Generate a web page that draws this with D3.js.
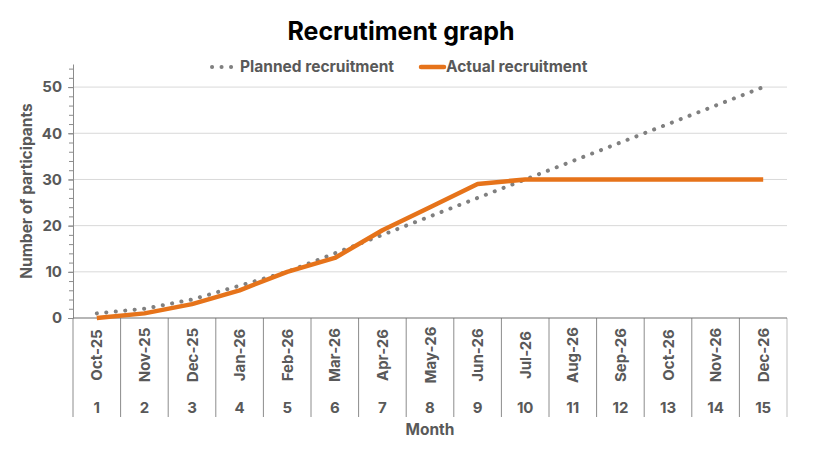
<!DOCTYPE html>
<html>
<head>
<script src="https://cdn.jsdelivr.net/npm/d3@7"></script>
<style>
  body { margin: 0; background: #fff; }
  text { font-family: Inter, "Open Sans", sans-serif; font-weight: 700; }
</style>
</head>
<body>
<script>
  // chart data
  var months = ["Oct-25", "Nov-25", "Dec-25", "Jan-26", "Feb-26", "Mar-26", "Apr-26", "May-26",
                "Jun-26", "Jul-26", "Aug-26", "Sep-26", "Oct-26", "Nov-26", "Dec-26"];
  var monthNo = [1, 2, 3, 4, 5, 6, 7, 8, 9, 10, 11, 12, 13, 14, 15];
  var planned = [1, 2, 4, 7, 10, 14, 18, 22, 26, 30, 34, 38, 42, 46, 50];
  var actual = [0, 1, 3, 6, 10, 13, 19, 24, 29, 30, 30, 30, 30, 30, 30];
  var yTicks = [0, 10, 20, 30, 40, 50];

  var W = 814, H = 458;
  var plotLeft = 73, plotRight = 787, plotTop = 64, plotBottom = 318;
  var textGrey = "#595959";
  var orange = "#E6731A";

  var svg = d3.select("body").append("svg")
      .attr("width", W)
      .attr("height", H);

  var x = d3.scaleBand()
      .domain(monthNo)
      .range([plotLeft, plotRight]);

  var y = d3.scaleLinear()
      .domain([0, 55])
      .range([plotBottom, plotTop]);

  // gridlines
  svg.append("g")
    .selectAll("line")
    .data(yTicks.slice(1))
    .enter().append("line")
      .attr("x1", plotLeft).attr("x2", plotRight)
      .attr("y1", function(d) { return y(d); })
      .attr("y2", function(d) { return y(d); })
      .style("stroke", "#d9d9d9")
      .style("stroke-width", 1);

  // y axis with minor ticks
  var minor = d3.range(0, 55, 2);
  svg.append("g")
      .attr("transform", "translate(" + plotLeft + ",0)")
      .call(d3.axisLeft(y).tickValues(minor).tickSize(4).tickSizeOuter(0).tickFormat(""))
      .call(function(g) {
        g.selectAll("line").style("stroke", "#8c8c8c");
        g.select(".domain").style("stroke", "#8c8c8c");
      });

  svg.append("g")
      .attr("transform", "translate(" + plotLeft + ",0)")
      .call(d3.axisLeft(y).tickValues(yTicks).tickSize(5).tickPadding(6))
      .call(function(g) {
        g.select(".domain").remove();
        g.selectAll("line").style("stroke", "#8c8c8c");
        g.selectAll("text")
          .style("font-size", "15px")
          .style("fill", textGrey)
          .style("font-family", "Inter, sans-serif")
          .style("font-weight", 700);
      });

  // category separators
  var edges = monthNo.map(function(d) { return x(d); }).concat([plotRight]);
  svg.append("g")
    .selectAll("line")
    .data(edges)
    .enter().append("line")
      .attr("x1", function(d) { return d; })
      .attr("x2", function(d) { return d; })
      .attr("y1", plotBottom)
      .attr("y2", 417)
      .style("stroke", function(d, i) { return i === edges.length - 1 ? "#bfbfbf" : "#8c8c8c"; })
      .style("stroke-width", 1);

  // x axis line
  svg.append("line")
      .attr("x1", plotLeft).attr("x2", plotRight)
      .attr("y1", plotBottom).attr("y2", plotBottom)
      .style("stroke", "#6e6e6e")
      .style("stroke-width", 1.2);

  // month labels (rotated)
  svg.append("g")
    .selectAll("text")
    .data(months)
    .enter().append("text")
      .attr("transform", function(d, i) {
        return "translate(" + (x(monthNo[i]) + x.bandwidth() / 2 + 5.5) + ",355) rotate(-90)";
      })
      .attr("text-anchor", "middle")
      .style("font-size", "15px")
      .style("fill", textGrey)
      .text(function(d) { return d; });

  // month numbers
  svg.append("g")
    .selectAll("text")
    .data(monthNo)
    .enter().append("text")
      .attr("x", function(d) { return x(d) + x.bandwidth() / 2; })
      .attr("y", 413)
      .attr("text-anchor", "middle")
      .style("font-size", "15px")
      .style("fill", textGrey)
      .text(function(d) { return d; });

  // lines
  var line = d3.line()
      .x(function(d, i) { return x(monthNo[i]) + x.bandwidth() / 2; })
      .y(function(d) { return y(d); });

  svg.append("path")
      .attr("d", line(planned))
      .style("fill", "none")
      .style("stroke", "#808080")
      .style("stroke-width", 4)
      .style("stroke-linecap", "round")
      .style("stroke-dasharray", "0.1 9.4");

  svg.append("path")
      .attr("d", line(actual))
      .style("fill", "none")
      .style("stroke", orange)
      .style("stroke-width", 4.5)
      .style("stroke-linejoin", "round");

  // title
  svg.append("text")
      .attr("x", 401)
      .attr("y", 40)
      .attr("text-anchor", "middle")
      .style("font-size", "25px")
      .style("fill", "#000")
      .text("Recrutiment graph");

  // legend
  var lg = svg.append("g");
  lg.append("line")
      .attr("x1", 212).attr("x2", 240)
      .attr("y1", 67).attr("y2", 67)
      .style("stroke", "#808080")
      .style("stroke-width", 4)
      .style("stroke-linecap", "round")
      .style("stroke-dasharray", "0.1 9.4");
  lg.append("text")
      .attr("x", 240).attr("y", 72)
      .style("font-size", "15.5px")
      .style("fill", textGrey)
      .text("Planned recruitment");
  lg.append("line")
      .attr("x1", 421).attr("x2", 444)
      .attr("y1", 67).attr("y2", 67)
      .style("stroke", orange)
      .style("stroke-width", 4.5)
      .style("stroke-linecap", "round");
  lg.append("text")
      .attr("x", 446).attr("y", 72)
      .style("font-size", "15.5px")
      .style("fill", textGrey)
      .text("Actual recruitment");

  // axis titles
  svg.append("text")
      .attr("transform", "translate(32,191) rotate(-90)")
      .attr("text-anchor", "middle")
      .style("font-size", "15.5px")
      .style("fill", textGrey)
      .text("Number of participants");

  svg.append("text")
      .attr("x", (plotLeft + plotRight) / 2)
      .attr("y", 435)
      .attr("text-anchor", "middle")
      .style("font-size", "15.5px")
      .style("fill", textGrey)
      .text("Month");
</script>
</body>
</html>
